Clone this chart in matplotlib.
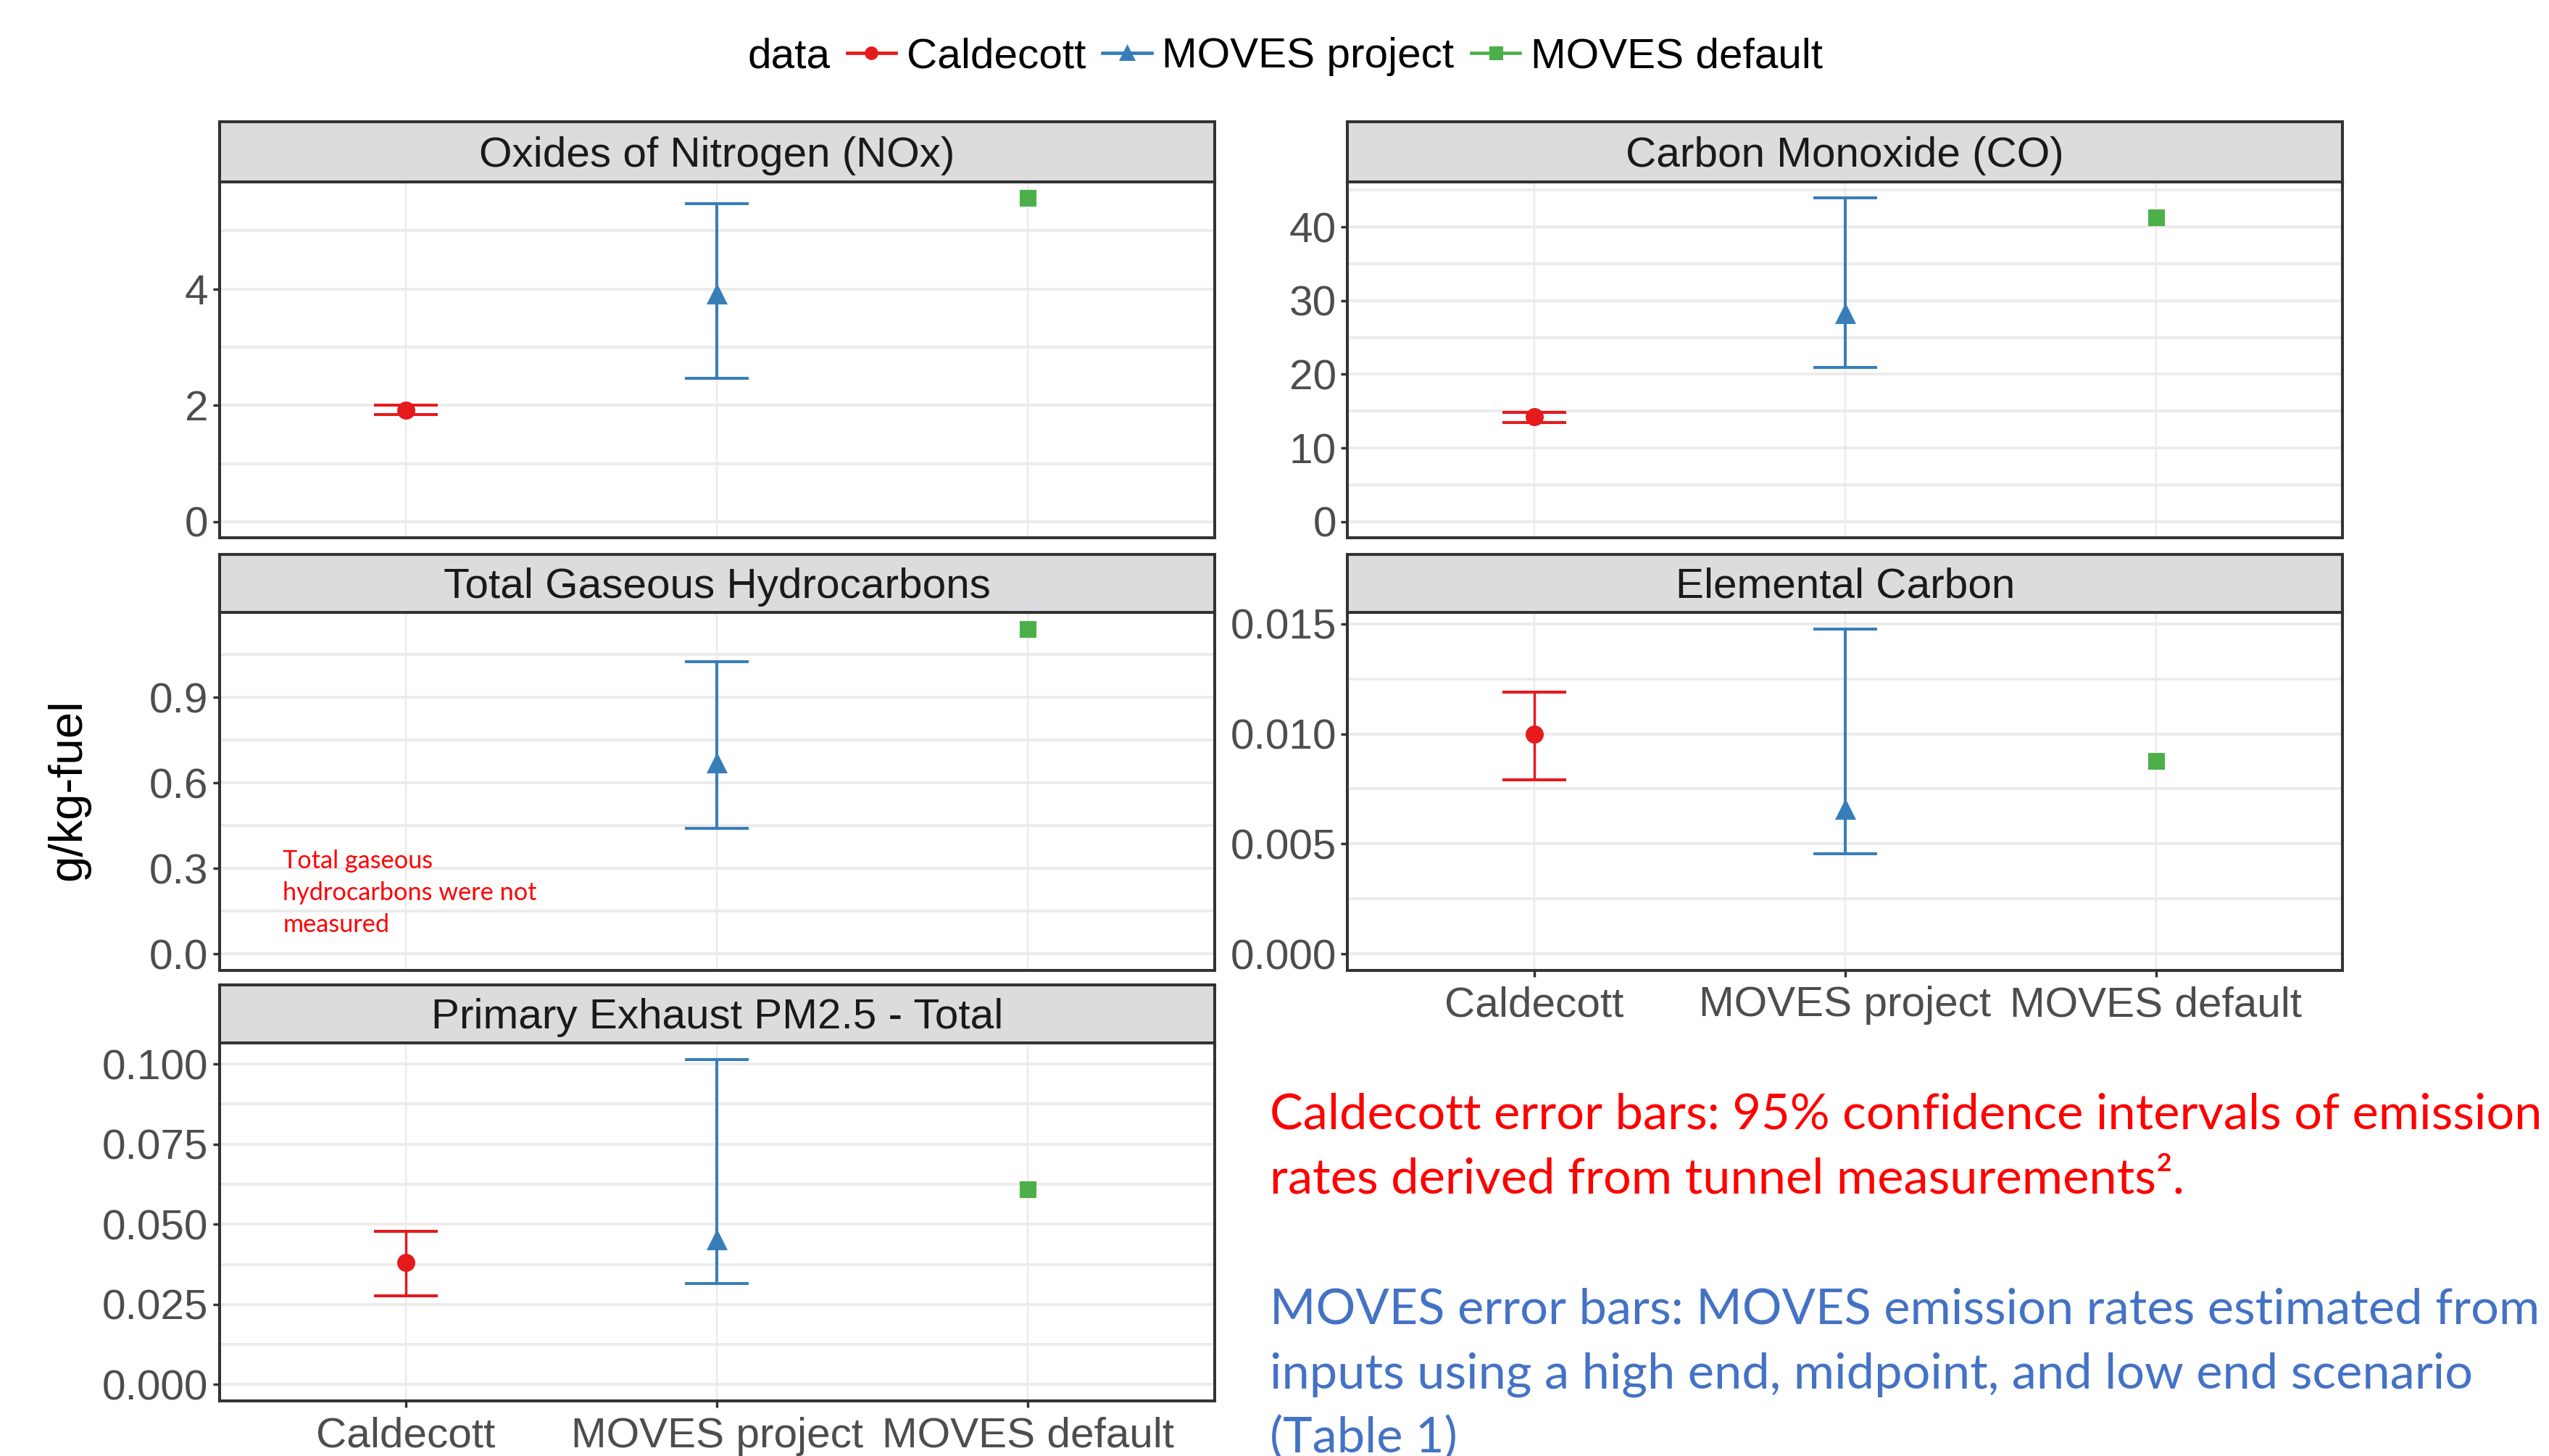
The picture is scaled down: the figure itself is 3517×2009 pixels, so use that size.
import numpy as np
import matplotlib.pyplot as plt
import matplotlib.ticker as mticker
from matplotlib.lines import Line2D

# ─── Data ────────────────────────────────────────────────────
pollutants = ["Oxides of Nitrogen (NOx)", "Carbon Monoxide (CO)",
              "Total Gaseous Hydrocarbons", "Elemental Carbon",
              "Primary Exhaust PM2.5 - Total"]
sources = ["Caldecott", "MOVES project", "MOVES default"]

caldecott_mid = [1.92, 14.2, np.nan, 0.0100, 0.0380]
caldecott_lo  = [1.84, 13.5, np.nan, 0.0079, 0.0276]
caldecott_hi  = [2.00, 14.85, np.nan, 0.0119, 0.0478]

project_mid = [3.91, 28.2, 0.670, 0.00655, 0.0451]
project_lo  = [2.46, 20.95, 0.44, 0.00454, 0.0314]
project_hi  = [5.47, 43.9, 1.025, 0.01477, 0.1014]

default_val = [5.56, 41.26, 1.141, 0.00877, 0.0608]

tick_step = [2, 10, 0.3, 0.005, 0.025]
tick_fmt  = ["%.0f", "%.0f", "%.1f", "%.3f", "%.3f"]

colors = {"Caldecott": "#E41A1C", "MOVES project": "#377EB8", "MOVES default": "#4DAF4A"}

# ─── Figure / layout (reference-pixel grid 1568x896) ─────────
plt.rcParams['font.family'] = ['Liberation Sans', 'DejaVu Sans']
DPI = 224.3
fig = plt.figure(figsize=(3517 / DPI, 2009 / DPI), dpi=DPI)
W, H = 1568, 896
FS = 18.8

def box(l, t, r, b):
    return [l / W, 1 - b / H, (r - l) / W, (b - t) / H]

# left, right, strip top, plot top, plot bottom
layout = [(135, 747, 75, 112, 331),
          (829, 1441, 75, 112, 331),
          (135, 747, 341, 377, 597),
          (829, 1441, 341, 377, 597),
          (135, 747, 606, 642, 862)]
show_x = [False, False, False, True, True]

x = np.arange(1, 4)
border = '#333333'

for i, name in enumerate(pollutants):
    l, r, st, pt, pb = layout[i]
    ax = fig.add_axes(box(l, pt, r, pb))
    sax = fig.add_axes(box(l, st, r, pt))

    # strip
    sax.set_facecolor('#DDDBDE')
    sax.set_xticks([]); sax.set_yticks([])
    for s in sax.spines.values():
        s.set_color(border); s.set_linewidth(1.3)
    sax.text(0.5, 0.44, name, ha='center', va='center', fontsize=FS,
             color='#1A1A1A', transform=sax.transAxes)

    # error bars + points
    if not np.isnan(caldecott_mid[i]):
        m = caldecott_mid[i]
        ax.errorbar(1, m, yerr=[[m - caldecott_lo[i]], [caldecott_hi[i] - m]],
                    fmt='none', ecolor=colors["Caldecott"], elinewidth=1.1,
                    capsize=14, capthick=1.3, zorder=3)
        ax.plot(1, m, 'o', color=colors["Caldecott"], markersize=7, zorder=4)
    m = project_mid[i]
    ax.errorbar(2, m, yerr=[[m - project_lo[i]], [project_hi[i] - m]],
                fmt='none', ecolor=colors["MOVES project"], elinewidth=1.3,
                capsize=14, capthick=1.3, zorder=3)
    ax.plot(2, m, '^', color=colors["MOVES project"], markersize=8, zorder=4)
    ax.plot(3, default_val[i], 's', color=colors["MOVES default"], markersize=6.5, zorder=4)

    # scales (ggplot-style 5% expansion, y includes 0)
    vals = [v for v in [caldecott_hi[i], project_hi[i], default_val[i]] if not np.isnan(v)]
    top = max(vals)
    ax.set_ylim(-0.05 * top, 1.05 * top)
    ax.set_xlim(0.4, 3.6)
    ax.set_xticks(x)
    ax.set_xticklabels(sources if show_x[i] else [])
    ax.yaxis.set_major_locator(mticker.MultipleLocator(tick_step[i]))
    ax.yaxis.set_minor_locator(mticker.MultipleLocator(tick_step[i] / 2))
    ax.yaxis.set_major_formatter(mticker.FormatStrFormatter(tick_fmt[i]))

    ax.tick_params(axis='y', which='major', length=3, width=1.1, color=border,
                   labelsize=FS, labelcolor='#4D4D4D', pad=2)
    ax.tick_params(axis='y', which='minor', length=0)
    if show_x[i]:
        ax.tick_params(axis='x', length=3, width=1.1, color=border,
                       labelsize=FS, labelcolor='#4D4D4D', pad=4)
    else:
        ax.tick_params(axis='x', length=0)

    ax.grid(True, axis='y', which='both', color='#EBEBEB', linewidth=1.2, zorder=0)
    ax.grid(True, axis='x', which='major', color='#EBEBEB', linewidth=0.8, zorder=0)
    ax.set_axisbelow(True)
    for s in ax.spines.values():
        s.set_color(border); s.set_linewidth(1.3)

# y axis label
fig.text(42 / W, 1 - 486 / H, 'g/kg-fuel', rotation=90, ha='center', va='center',
         fontsize=21, color='black')

# note inside THC panel
fig.text(174 / W, 1 - 549.5 / H, 'Total gaseous\nhydrocarbons were not\nmeasured',
         family=['Lato', 'DejaVu Sans'], fontsize=11, color='#FF0000',
         ha='left', va='center', linespacing=1.47)

# legend on top
fig.text(460 / W, 1 - 35 / H, 'data', ha='left', va='center', fontsize=FS)
handles = [Line2D([], [], color=colors["Caldecott"], marker='o', markersize=5, lw=1.5),
           Line2D([], [], color=colors["MOVES project"], marker='^', markersize=6, lw=1.5),
           Line2D([], [], color=colors["MOVES default"], marker='s', markersize=5, lw=1.5)]
fig.legend(handles, sources, loc='center left', bbox_to_anchor=(521 / W, 1 - 35 / H),
           ncol=3, frameon=False, fontsize=FS, handlelength=1.15,
           handletextpad=0.25, columnspacing=0.4, borderaxespad=0, borderpad=0)

# explanatory notes
note_font = ['Lato', 'DejaVu Sans']
note_fs = 22
fig.text(781 / W, 1 - 686 / H, 'Caldecott error bars: 95% confidence intervals of emission',
         family=note_font, fontsize=note_fs, color='#FF0000', ha='left', va='center')
fig.text(781 / W, 1 - 726 / H, 'rates derived from tunnel measurements\u00b2.',
         family=note_font, fontsize=note_fs, color='#FF0000', ha='left', va='center')
fig.text(781 / W, 1 - 806 / H, 'MOVES error bars: MOVES emission rates estimated from',
         family=note_font, fontsize=note_fs, color='#4472C4', ha='left', va='center')
fig.text(781 / W, 1 - 846 / H, 'inputs using a high end, midpoint, and low end scenario',
         family=note_font, fontsize=note_fs, color='#4472C4', ha='left', va='center')
fig.text(781 / W, 1 - 885 / H, '(Table 1)',
         family=note_font, fontsize=note_fs, color='#4472C4', ha='left', va='center')

fig.savefig('out.png', dpi=DPI)
